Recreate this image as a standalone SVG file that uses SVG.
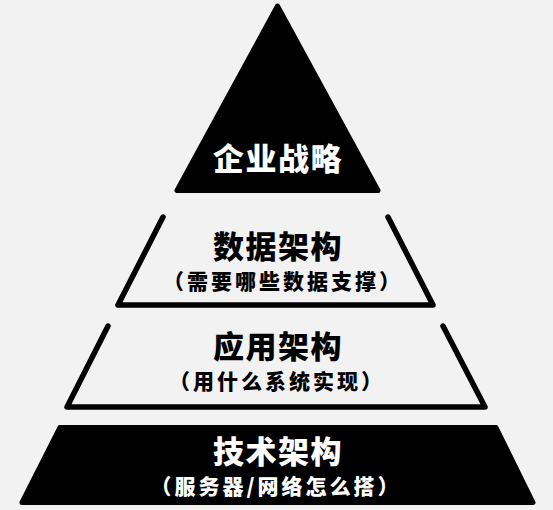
<svg xmlns="http://www.w3.org/2000/svg" width="553" height="510" viewBox="0 0 553 510">
  <style>
    .bg { fill: #f2f2f2; }
    .solid { fill: #000; stroke: #000; stroke-width: 5; stroke-linejoin: round; }
    .outline { fill: none; stroke: #000; stroke-width: 5.5; stroke-linecap: round; stroke-linejoin: round; }
    .title { font-family: "Noto Sans CJK SC", "Noto Sans", sans-serif; font-weight: 900; font-size: 31px; letter-spacing: 1.5px; text-anchor: middle; }
    .sub { font-family: "Noto Sans CJK SC", "Noto Sans", sans-serif; font-weight: 900; font-size: 21px; letter-spacing: 3px; text-anchor: middle; }
    .light { fill: #fff; }
    .dark { fill: #000; }
  </style>
  <rect class="bg" x="0" y="0" width="553" height="510"/>

  <g id="strategy">
    <polygon class="solid" points="277.5,6 177,190.5 378,190.5"/>
    <text class="title light" x="278" y="170">企业战略</text>
  </g>

  <g id="data-architecture">
    <polyline class="outline" points="163,217 118,305 433,305 388,217"/>
    <text class="title dark" x="278" y="258">数据架构</text>
    <text class="sub dark" x="283" y="289">（需要哪些数据支撑）</text>
  </g>

  <g id="application-architecture">
    <polyline class="outline" points="108,326 67,407 485,407 443,326"/>
    <text class="title dark" x="278" y="358">应用架构</text>
    <text class="sub dark" x="277" y="389">（用什么系统实现）</text>
  </g>

  <g id="technology-architecture">
    <polygon class="solid" points="60,427.5 496,427.5 533,502.5 22,502.5"/>
    <text class="title light" x="278" y="463">技术架构</text>
    <text class="sub light" x="276" y="494">（服务器/网络怎么搭）</text>
  </g>
</svg>
